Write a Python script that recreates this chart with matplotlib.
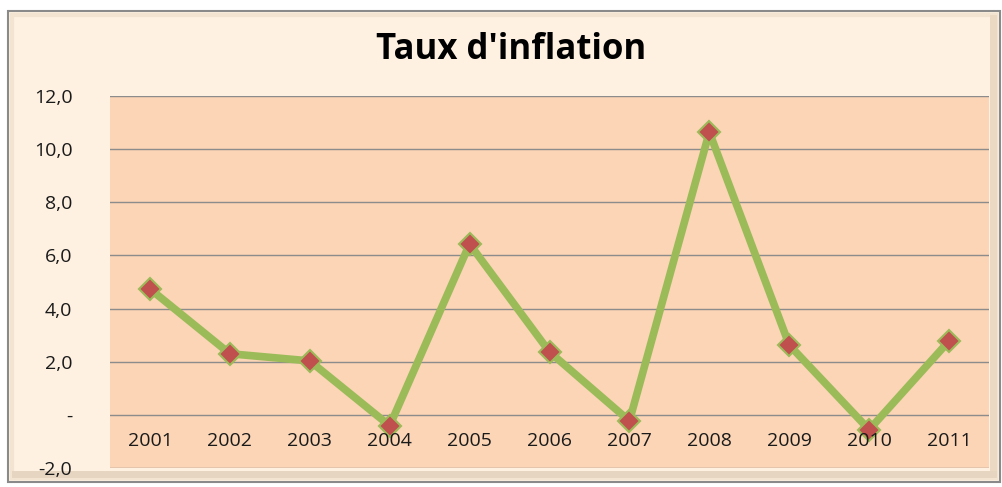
import matplotlib
matplotlib.use("Agg")
import matplotlib.pyplot as plt
from matplotlib.patches import Rectangle

years = ["2001", "2002", "2003", "2004", "2005", "2006", "2007", "2008", "2009", "2010", "2011"]
inflation = [4.74, 2.30, 2.03, -0.41, 6.43, 2.37, -0.23, 10.64, 2.63, -0.56, 2.78]
yticks = [-2, 0, 2, 4, 6, 8, 10, 12]
ytick_labels = ["-2,0", "-", "2,0", "4,0", "6,0", "8,0", "10,0", "12,0"]
title = "Taux d'inflation"

plt.rcParams['font.family'] = ['Open Sans', 'DejaVu Sans']

W, H = 1003, 487
fig = plt.figure(figsize=(W / 100, H / 100), dpi=100)
fig.patch.set_facecolor("white")

def px_rect(x0, y0, x1, y1, **kw):
    r = Rectangle((x0 / W, 1 - y1 / H), (x1 - x0) / W, (y1 - y0) / H,
                  transform=fig.transFigure, **kw)
    fig.patches.append(r)

# outer frame and bevel
px_rect(8, 11, 1000, 482, facecolor="#FEF1E1", edgecolor="#8A8A8A", lw=1.5, zorder=-3)
px_rect(12, 15, 996, 478, facecolor="none", edgecolor="#F3E4D2", lw=3, zorder=-2)
px_rect(990, 15, 997, 478, facecolor="#EBD9C4", edgecolor="none", zorder=-2)
px_rect(12, 471, 997, 478, facecolor="#E6D5C1", edgecolor="none", zorder=-2)

ax = fig.add_axes([110 / W, 19 / H, (989 - 110) / W, (468 - 96) / H])
ax.set_zorder(1)
ax.set_facecolor("#FBD5B5")
for s in ax.spines.values():
    s.set_visible(False)

x = list(range(len(years)))
ax.set_xlim(-0.5, len(years) - 0.5)
ax.set_ylim(-2, 12)
ax.set_yticks(yticks)
ax.set_yticklabels(ytick_labels, fontsize=14, color="#1a1a1a")
ax.tick_params(axis="y", length=0, pad=27)
ax.set_xticks([])
for t in yticks:
    ax.axhline(t, color="#8C8C8C", lw=1.0, zorder=1)

ax.plot(x, inflation, color="#9BBB59", lw=5.5, zorder=2,
        marker="D", markersize=11, markerfacecolor="#C0504D",
        markeredgecolor="#9BBB59", markeredgewidth=1.5, solid_joinstyle="miter")

for xi, lab in zip(x, years):
    ax.text(xi, -1.0, lab, ha="center", va="center", fontsize=14, color="#1a1a1a", zorder=3)

fig.text(511 / W, 1 - 50 / H, title, ha="center", va="center",
         fontsize=25, fontweight="bold", color="black", zorder=5)

fig.savefig("out.png", dpi=100, facecolor=fig.get_facecolor())
